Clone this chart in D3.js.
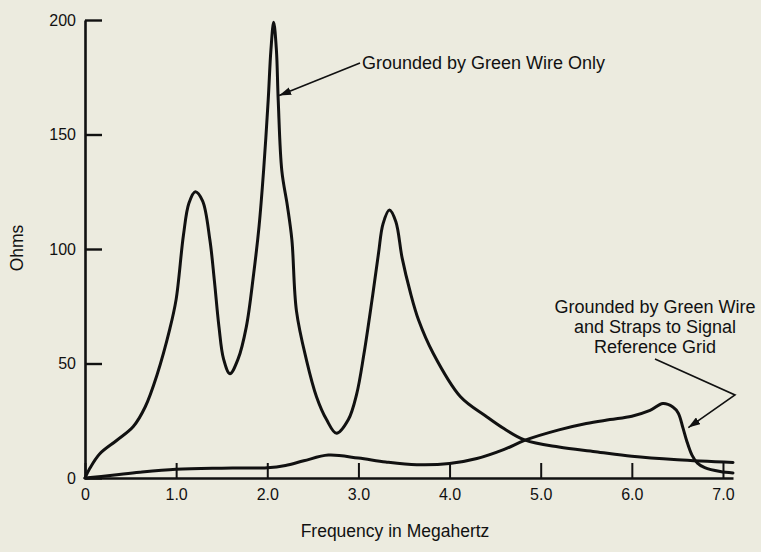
<!DOCTYPE html>
<html>
<head>
<meta charset="utf-8">
<script src="https://cdn.jsdelivr.net/npm/d3@7"></script>
<style>
  html, body { margin: 0; padding: 0; background: #ecebdf; }
  svg { display: block; }
  text { font-family: "Liberation Sans", Arial, Helvetica, sans-serif; fill: #111; }
</style>
</head>
<body>
<svg id="chart" width="761" height="552"></svg>
<script>
// ---- data ----
const freqA   = [0, 0.05, 0.16, 0.35, 0.53, 0.66, 0.79, 0.93, 1.0, 1.08, 1.14, 1.21, 1.29, 1.37, 1.42, 1.47, 1.52, 1.59, 1.68, 1.77, 1.85, 1.91, 1.96, 2.01, 2.04, 2.07, 2.10, 2.12, 2.16, 2.22, 2.27, 2.32, 2.43, 2.54, 2.65, 2.76, 2.89, 2.98, 3.06, 3.15, 3.22, 3.27, 3.34, 3.41, 3.48, 3.57, 3.66, 3.82, 4.12, 4.4, 4.6, 4.83, 5.2, 5.6, 6.0, 6.5, 7.11];
const ohmsA   = [0, 4, 10.5, 16.5, 22.5, 31, 45, 65, 78, 106, 120, 125, 121, 104, 86, 66, 52, 45.5, 52, 66, 89, 110, 134.5, 165, 187, 199, 187, 165, 134, 119, 104, 73, 51.5, 35.5, 25.5, 19.5, 25.5, 36.5, 54, 78, 98, 111, 117, 112, 96, 81, 69, 54.5, 35.5, 27, 21.5, 16.5, 13.5, 11.5, 9.5, 8, 6.8];
const freqB   = [0, 0.3, 0.6, 1.0, 1.5, 2.0, 2.2, 2.4, 2.67, 3.0, 3.3, 3.64, 4.0, 4.3, 4.6, 4.83, 5.2, 5.5, 5.76, 6.0, 6.2, 6.34, 6.45, 6.51, 6.56, 6.60, 6.66, 6.72, 6.8, 6.97, 7.11];
const ohmsB   = [0, 1.2, 2.5, 3.8, 4.3, 4.5, 5.5, 7.5, 10, 8.7, 7, 5.8, 6.3, 8.5, 12.5, 16.5, 21, 23.8, 25.5, 27, 29.5, 32.5, 31, 28.3, 22, 16.5, 10, 6.5, 4.5, 2.8, 2.2];
const xTicks  = [0, 1, 2, 3, 4, 5, 6, 7];
const xTickLabels = ["0", "1.0", "2.0", "3.0", "4.0", "5.0", "6.0", "7.0"];
const yTicks  = [0, 50, 100, 150, 200];
const xTitle  = "Frequency in Megahertz";
const yTitle  = "Ohms";
const note1   = "Grounded by Green Wire Only";
const note2   = ["Grounded by Green Wire", "and Straps to Signal", "Reference Grid"];

// ---- layout ----
const svg = d3.select("#chart");
const x = d3.scaleLinear().domain([0, 7.11]).range([85, 733]);
const y = d3.scaleLinear().domain([0, 200]).range([478, 20]);

// markers
const defs = svg.append("defs");
defs.append("marker")
  .attr("id", "arrow").attr("viewBox", "0 0 12 8")
  .attr("refX", 12).attr("refY", 4)
  .attr("markerWidth", 12).attr("markerHeight", 8)
  .attr("markerUnits", "userSpaceOnUse")
  .attr("orient", "auto")
  .append("path").attr("d", "M0,0 L12,4 L0,8 Z").attr("fill", "#111");

// y axis
const yAxis = svg.append("g").attr("transform", `translate(${x(0)},0)`)
  .call(d3.axisLeft(y).tickValues(yTicks).tickSizeInner(-17).tickSizeOuter(0).tickPadding(9));
yAxis.select(".domain").attr("stroke", "#111").attr("stroke-width", 2.6);
yAxis.selectAll(".tick line").attr("stroke", "#111").attr("stroke-width", 2.4);
yAxis.selectAll(".tick text").attr("font-size", 16).attr("font-family", "Liberation Sans, Arial, sans-serif").attr("fill", "#111");

// x axis
const xAxis = svg.append("g").attr("transform", `translate(0,${y(0)})`)
  .call(d3.axisBottom(x).tickValues(xTicks).tickFormat((d, i) => xTickLabels[i])
    .tickSizeInner(-15).tickSizeOuter(0).tickPadding(11));
xAxis.select(".domain").attr("stroke", "#111").attr("stroke-width", 2.6);
xAxis.selectAll(".tick line").attr("stroke", "#111").attr("stroke-width", 2);
xAxis.selectAll(".tick text").attr("font-size", 16).attr("font-family", "Liberation Sans, Arial, sans-serif").attr("fill", "#111");

// curves
const line = d3.line().x(d => x(d[0])).y(d => y(d[1])).curve(d3.curveCatmullRom.alpha(0.5));
svg.append("path").datum(d3.zip(freqA, ohmsA))
  .attr("d", line).attr("fill", "none").attr("stroke", "#111")
  .attr("stroke-width", 3).attr("stroke-linejoin", "round").attr("stroke-linecap", "round");
svg.append("path").datum(d3.zip(freqB, ohmsB))
  .attr("d", line).attr("fill", "none").attr("stroke", "#111")
  .attr("stroke-width", 3).attr("stroke-linejoin", "round").attr("stroke-linecap", "round");

// titles
svg.append("text").attr("x", 395).attr("y", 537).attr("text-anchor", "middle")
  .attr("font-size", 17.5).text(xTitle);
svg.append("text").attr("transform", "translate(23,248) rotate(-90)").attr("text-anchor", "middle")
  .attr("font-size", 17.5).text(yTitle);

// annotation 1
svg.append("text").attr("x", 362).attr("y", 69).attr("font-size", 18).text(note1);
svg.append("line")
  .attr("x1", 360).attr("y1", 63).attr("x2", x(2.13)).attr("y2", y(167))
  .attr("stroke", "#111").attr("stroke-width", 1.6).attr("marker-end", "url(#arrow)");

// annotation 2
svg.append("text").attr("text-anchor", "middle").attr("font-size", 18)
  .selectAll("tspan").data(note2).join("tspan")
  .attr("x", 655).attr("y", (d, i) => 313 + i * 20).text(d => d);
svg.append("polyline")
  .attr("points", [[655, 359], [735, 395], [x(6.62), y(22)]].map(p => p.join(",")).join(" "))
  .attr("fill", "none").attr("stroke", "#111").attr("stroke-width", 1.6)
  .attr("marker-end", "url(#arrow)");
</script>
</body>
</html>
